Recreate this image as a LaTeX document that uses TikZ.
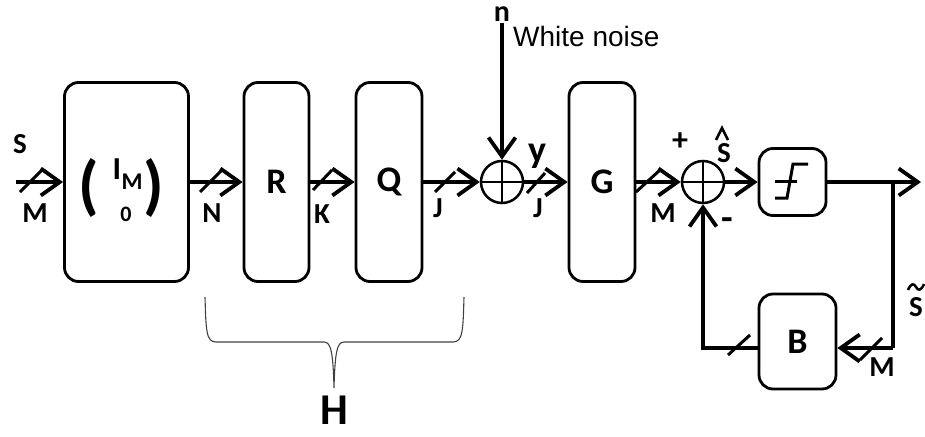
\documentclass[tikz,border=0pt]{standalone}
\usepackage{fontspec}
\setmainfont{Carlito}
\newfontfamily\arialfont{Liberation Sans}
\usetikzlibrary{arrows.meta}
\begin{document}
\begin{tikzpicture}[x=1pt,y=-1pt,
 blk/.style={draw, line width=2.8pt, rounded corners=14pt, inner sep=0pt},
 sumc/.style={draw, circle, line width=2.5pt, minimum size=42pt, inner sep=0pt,
   path picture={\draw[line width=2.5pt] (path picture bounding box.north) -- (path picture bounding box.south) (path picture bounding box.west) -- (path picture bounding box.east);}},
 conn/.style={line width=3.8pt, -{Straight Barb[length=19pt,width=27pt]}},
 wire/.style={line width=3.8pt},
 slashmark/.style={line width=3pt},
 lbl/.style={font=\fontsize{29}{29}\selectfont\bfseries, inner sep=0pt},
 big/.style={font=\fontsize{36}{36}\selectfont\bfseries, inner sep=0pt},
 bracestyle/.style={draw=black!75, line width=1.1pt}]
\useasboundingbox (0,0) rectangle (925,436);

% blocks
\node[blk, minimum width=124pt, minimum height=199pt] (b1) at (126.5,182) {};
\node[blk, minimum width=65pt, minimum height=199pt] (R) at (276.5,182) {};
\node[blk, minimum width=66pt, minimum height=199pt] (Q) at (389,182) {};
\node[blk, minimum width=66pt, minimum height=199pt] (G) at (602,182) {};
\node[blk, minimum width=67pt, minimum height=67pt] (qz) at (792.5,182) {};
\node[blk, minimum width=77pt, minimum height=95pt] (B) at (797.5,341.5) {};
\node[sumc] (s1) at (502,182) {};
\node[sumc] (s2) at (703,182) {};

% block texts
\node[big] (tR) at (R) {R};
\node[big] (tQ) at (Q) {Q};
\node[big] (tG) at (G) {G};
\node[big] (tB) at (B) {B};
\node[inner sep=0pt, font=\fontsize{66}{66}\selectfont\bfseries] (lp) at (89,188) {(};
\node[inner sep=0pt, font=\fontsize{66}{66}\selectfont\bfseries] (rp) at (154,188) {)};
\node[inner sep=0pt, font=\fontsize{32}{32}\selectfont\bfseries] (tI) at (117,169) {I};
\node[inner sep=0pt, font=\fontsize{24}{24}\selectfont\bfseries] (tIM) at (132,182) {M};
\node[inner sep=0pt, font=\fontsize{22}{22}\selectfont\bfseries] (t0) at (126,214) {0};

% quantizer symbol
\draw[line width=3pt] (775,198) -- (787,198) -- (793,164) -- (808,164);
\draw[line width=3pt] (775,181) -- (797,181);

% coordinates
\coordinate (in) at (16,182);
\coordinate (ntop) at (502,23);
\coordinate (out) at (921,182);
\coordinate (br) at (893,182);
\coordinate (brb) at (893,348);

% connectors
\draw[conn] (in) -- (b1.west);
\draw[conn] (b1.east) -- (R.west);
\draw[conn] (R.east) -- (Q.west);
\draw[conn] (Q.east) -- (s1.west);
\draw[conn] (ntop) -- (s1.north);
\draw[conn] (s1.east) -- (G.west);
\draw[conn] (G.east) -- (s2.west);
\draw[conn] (s2.east) -- (qz.west);
\draw[conn] (qz.east) -- (out);
\draw[wire] (br) -- (brb);
\draw[conn] (brb) -- (brb -| B.east);
\draw[conn] (B.west |- brb) -| (s2.south);

% slashes
\draw[slashmark] (20,192) -- (42,170);
\draw[slashmark] (200,192) -- (222,170);
\draw[slashmark] (313,190) -- (332,170);
\draw[slashmark] (435,192) -- (455,172);
\draw[slashmark] (527,193) -- (545,173);
\draw[slashmark] (636,192) -- (660,170);
\draw[slashmark] (728,355) -- (750,335);
\draw[slashmark] (860,360) -- (882,338);

% labels
\node[lbl] (lS) at (20,144) {S};
\node[lbl] (lM1) at (35,213) {M};
\node[lbl] (lN) at (212,213) {N};
\node[lbl] (lK) at (322,214) {K};
\node[lbl] (lJ1) at (438,208) {J};
\node[lbl] (lJ2) at (538,208) {J};
\node[lbl] (lM2) at (663,213) {M};
\node[lbl] (lM3) at (882,367) {M};
\node[inner sep=0pt, font=\fontsize{30}{30}\selectfont\bfseries] (ln) at (502,14) {n};
\node[inner sep=0pt, anchor=west, font=\arialfont\fontsize{28}{28}\selectfont] (lwn) at (513,36) {White noise};
\node[inner sep=0pt, font=\fontsize{38}{38}\selectfont\bfseries] (ly) at (537,156) {y};
\node[inner sep=0pt, font=\fontsize{32}{32}\selectfont\bfseries] (lplus) at (680,142) {+};
\node[inner sep=0pt, font=\fontsize{38}{38}\selectfont\bfseries] (lminus) at (727,224) {-};
\node[lbl] (lShat) at (724,153) {S};
\draw[line width=2.5pt] (716,140) -- (722,128) -- (728,140);
\node[lbl] (lStil) at (916,307) {S};
\draw[line width=2.5pt] (908,290) .. controls (911,283) and (914,283) .. (916,287) .. controls (918,291) and (921,291) .. (924,284);

% brace
\draw[bracestyle] (205,297) .. controls (206,330) and (206,342) .. (216,342) -- (324,342) .. controls (331,342) and (333,352) .. (334,388) .. controls (335,352) and (337,342) .. (344,342) -- (453,342) .. controls (463,342) and (463,330) .. (464,297);
\node[inner sep=0pt, font=\fontsize{44}{44}\selectfont\bfseries] (lH) at (334,410) {H};
\end{tikzpicture}
\end{document}
